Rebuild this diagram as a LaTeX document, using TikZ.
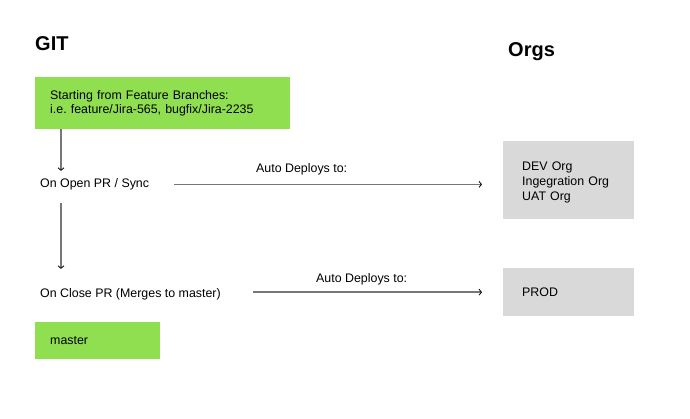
\documentclass[tikz,border=0pt]{standalone}
\usepackage{fontspec}
\setmainfont{Liberation Sans}
\usepackage{xcolor}
\usepackage{tikz}
\usetikzlibrary{calc}
\usetikzlibrary{arrows.meta}
\frenchspacing
\definecolor{branchgreen}{HTML}{8FDF50}
\definecolor{orggray}{HTML}{D9D9D9}
\definecolor{flowgray}{HTML}{777777}
\tikzset{>={Straight Barb[length=2.5pt,width=6pt,line width=0.8pt,color=black]}}
\tikzset{
  heading/.style={anchor=base west,inner sep=0,font=\fontsize{20}{24}\selectfont\bfseries},
  steptext/.style={anchor=base west,inner sep=0,font=\fontsize{12.4}{15}\selectfont},
  branch/.style={fill=branchgreen,anchor=north west,align=left,inner xsep=15pt,inner ysep=0,font=\fontsize{12.4}{14.5}\selectfont},
  orgbox/.style={fill=orggray,anchor=north west,align=left,inner xsep=19pt,inner ysep=0,text width=93pt,font=\fontsize{12.4}{15}\selectfont},
  flow/.style={->,draw=flowgray,line width=1.5pt},
}

\begin{document}
\begin{tikzpicture}[x=1pt,y=-1pt]
\useasboundingbox (0,0) rectangle (690,418);
% left column: git
\node[heading] (git) at (35,50) {GIT};
\node[branch,text width=225pt,minimum height=52pt] (feature) at (35,77) {Starting from Feature Branches:\\ i.e. feature/Jira-565, bugfix/Jira-2235};
\node[steptext] (openpr) at (40,187) {On Open PR / Sync};
\node[steptext] (closepr) at (40,297) {On Close PR (Merges to master)};
\node[branch,text width=95pt,minimum height=37pt] (master) at (35,322) {master};
% right column: orgs
\node[heading] (orgs) at (508,56.7) {Orgs};
\node[orgbox,minimum height=78pt] (devorgs) at (503,141) {\rule{0pt}{13pt}DEV Org\\ Ingegration Org\\ UAT Org};
\node[orgbox,minimum height=48pt] (prod) at (503,268) {PROD};
% deploy labels
\node[steptext] (deploy1) at (256,172.7) {Auto Deploys to:};
\node[steptext] (deploy2) at (316,282) {Auto Deploys to:};
% arrows
\draw[flow,shorten >=7pt] ([xshift=26pt]feature.south west) -- ([xshift=21pt]openpr.north west);
\draw[flow,shorten <=13pt,shorten >=19pt] ([xshift=21pt]openpr.south west) -- ([xshift=21pt]closepr.north west);
\draw[flow,shorten <=25pt,shorten >=21pt] (openpr.mid east) -- (openpr.mid east -| devorgs.west);
\draw[flow,shorten <=32.5pt,shorten >=21pt] (closepr.east |- prod.west) -- (prod.west);
\end{tikzpicture}
\end{document}
